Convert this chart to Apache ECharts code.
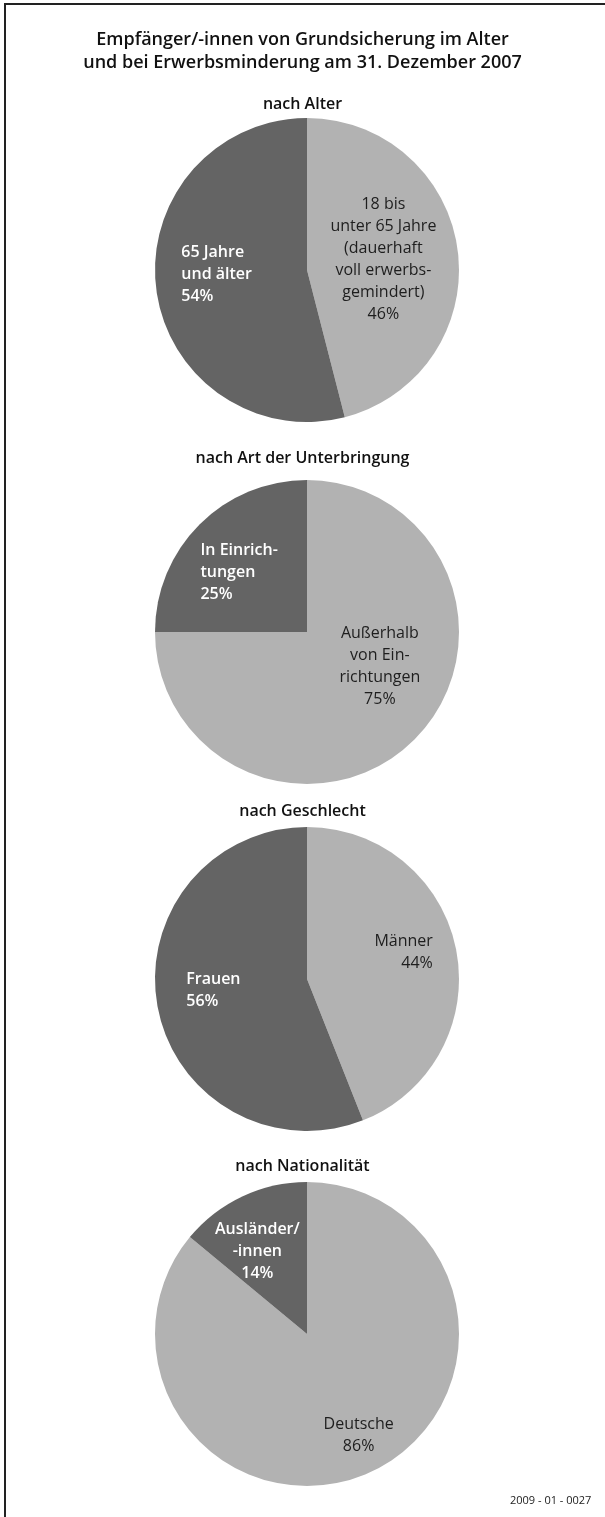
<!DOCTYPE html>
<html>
<head>
<meta charset="utf-8">
<script src="https://cdn.jsdelivr.net/npm/echarts@6/dist/echarts.min.js"></script>
<style>
  html, body { margin: 0; padding: 0; background: #fff; }
  #main { width: 605px; height: 1517px; }
</style>
</head>
<body>
<div id="main"></div>
<script>
// Werte (Anteile in %)
const alterNamen = ['18 bis\nunter 65 Jahre\n(dauerhaft\nvoll erwerbs-\ngemindert)', '65 Jahre\nund älter'];
const alterWerte = [46, 54];
const unterbringungNamen = ['Außerhalb\nvon Ein-\nrichtungen', 'In Einrich-\ntungen'];
const unterbringungWerte = [75, 25];
const geschlechtNamen = ['Männer', 'Frauen'];
const geschlechtWerte = [44, 56];
const nationalitaetNamen = ['Deutsche', 'Ausländer/\n-innen'];
const nationalitaetWerte = [86, 14];

const HELL = '#b2b2b2';
const DUNKEL = '#646464';
const FONT = '"Open Sans", sans-serif';

// Zeilen eines Labels ausrichten (l = links, c = mitte, r = rechts)
const lines = (align) => (p) =>
  (p.name + '\n' + p.value + '%').split('\n').map(s => '{' + align + '|' + s + '}').join('\n');

const richStyles = (color, weight) => ({
  l: { align: 'left', color: color, fontFamily: FONT, fontSize: 16, fontWeight: weight, lineHeight: 22 },
  c: { align: 'center', color: color, fontFamily: FONT, fontSize: 16, fontWeight: weight, lineHeight: 22 },
  r: { align: 'right', color: color, fontFamily: FONT, fontSize: 16, fontWeight: weight, lineHeight: 22 }
});

const hellLabel = (align, dx, dy) => ({
  show: true, position: 'inside', offset: [dx, dy],
  formatter: lines(align), rich: richStyles('#1e1e1e', 'normal')
});
const dunkelLabel = (align, dx, dy) => ({
  show: true, position: 'inside', offset: [dx, dy],
  formatter: lines(align), rich: richStyles('#ffffff', 600)
});

function makePie(names, values, cy, labels) {
  return {
    type: 'pie',
    center: [307, cy],
    radius: 152,
    startAngle: 90,
    clockwise: true,
    silent: true,
    labelLine: { show: false },
    itemStyle: { borderWidth: 0 },
    emphasis: { disabled: true },
    data: values.map((v, i) => ({
      name: names[i],
      value: v,
      itemStyle: { color: i === 0 ? HELL : DUNKEL },
      label: labels[i]
    }))
  };
}

const subTitle = (text, top) => ({
  text: text, left: 'center', top: top,
  textStyle: { fontFamily: FONT, fontSize: 16, fontWeight: 600, color: '#111' }
});

const chart = echarts.init(document.getElementById('main'), null, { renderer: 'canvas' });
chart.setOption({
  animation: false,
  backgroundColor: '#fff',
  title: [
    {
      text: 'Empfänger/-innen von Grundsicherung im Alter\nund bei Erwerbsminderung am 31. Dezember 2007',
      left: 'center', top: 23,
      textStyle: { fontFamily: FONT, fontSize: 18, fontWeight: 600, lineHeight: 23, color: '#111' }
    },
    subTitle('nach Alter', 91),
    subTitle('nach Art der Unterbringung', 445),
    subTitle('nach Geschlecht', 798),
    subTitle('nach Nationalität', 1153),
    {
      text: '2009 - 01 - 0027', left: 505, top: 1490,
      textStyle: { fontFamily: FONT, fontSize: 11, fontWeight: 'normal', color: '#222' }
    }
  ],
  graphic: [
    { type: 'line', shape: { x1: 4, y1: 4, x2: 605, y2: 4 }, style: { stroke: '#222', lineWidth: 2 } },
    { type: 'line', shape: { x1: 5, y1: 4, x2: 5, y2: 1517 }, style: { stroke: '#222', lineWidth: 2 } }
  ],
  series: [
    makePie(alterNamen, alterWerte, 270, [hellLabel('c', -2, -1), dunkelLabel('l', -12, -5)]),
    makePie(unterbringungNamen, unterbringungWerte, 632, [hellLabel('c', 17, -21), dunkelLabel('l', -12, -4)]),
    makePie(geschlechtNamen, geschlechtWerte, 979, [hellLabel('r', 19, -12), dunkelLabel('l', -16, -3)]),
    makePie(nationalitaetNamen, nationalitaetWerte, 1334, [hellLabel('c', 18, 30), dunkelLabel('c', -16, -11)])
  ]
});
</script>
</body>
</html>
